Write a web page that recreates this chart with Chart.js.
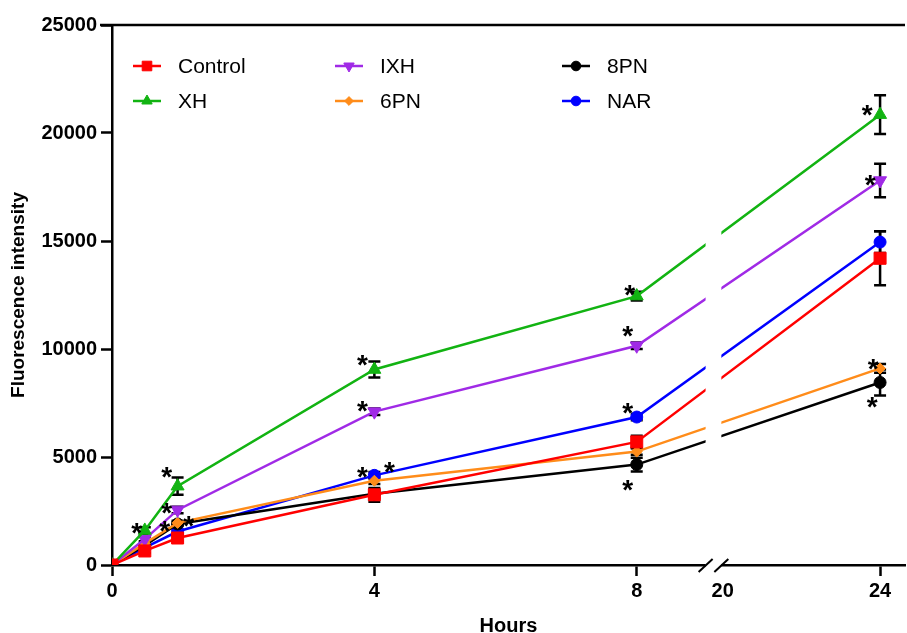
<!DOCTYPE html>
<html>
<head>
<meta charset="utf-8">
<script src="https://cdn.jsdelivr.net/npm/chart.js@4.4.1/dist/chart.umd.min.js"></script>
<style>
  html, body { margin: 0; padding: 0; background: #fff; overflow: hidden; }
  canvas { display: block; }
</style>
</head>
<body>
<canvas id="fluo" width="907" height="633"></canvas>
<script>
// data
var hours = [0, 0.5, 1, 4, 8, 24];
var seriesNames = ["Control", "XH", "IXH", "6PN", "8PN", "NAR"];
var control = [0, 650, 1250, 3250, 5700, 14200];
var xh      = [0, 1600, 3650, 9050, 12450, 20850];
var ixh     = [0, 1200, 2550, 7100, 10150, 17800];
var pn6     = [0, 1000, 1950, 3900, 5250, 9100];
var pn8     = [0, 900, 1900, 3300, 4650, 8450];
var nar     = [0, 800, 1550, 4150, 6850, 14950];

var controlErr = [0, 100, 150, 320, 280, 1250];
var xhErr      = [0, 150, 400, 370, 200, 900];
var ixhErr     = [0, 100, 150, 150, 150, 780];
var pn6Err     = [0, 80, 100, 150, 150, 200];
var pn8Err     = [0, 80, 100, 200, 320, 600];
var narErr     = [0, 80, 100, 150, 150, 500];

var tickHours = [0, 4, 8, 20, 24];
var yTicks = [0, 5000, 10000, 15000, 20000, 25000];

// significance stars: [series, point, dx, dy]
var stars = [
  [1, 1, -8, -4], [1, 2, -11, -16], [2, 2, -11, -4], [3, 2, -13, 1], [3, 2, 11, -4],
  [1, 3, -12, -12], [2, 3, -12, -8], [5, 3, -12, -5], [5, 3, 15, -10],
  [1, 4, -7, -8], [2, 4, -9, -17], [5, 4, -9, -11], [4, 4, -9, 18],
  [1, 5, -13, -7], [2, 5, -10, -3], [3, 5, -7, -6], [4, 5, -8, 18]
];

// broken x axis: 0-8 linear, then 20-24 squeezed after the break
function axisPos(h) {
  if (h <= 8) return h;
  return 9.31 + (h - 20) * 0.6;
}
var breakFrom = 9.05, breakTo = 9.29;

var FONT = '"Liberation Sans", Arial, sans-serif';

function pts(vals) {
  return vals.map(function (v, i) { return { x: axisPos(hours[i]), y: v }; });
}

var styles = [
  { color: '#ff0000', pointStyle: 'rect', radius: 8.5, rotation: 0 },
  { color: '#12b312', pointStyle: 'triangle', radius: 7.5, rotation: 0 },
  { color: '#a02ae6', pointStyle: 'triangle', radius: 7.5, rotation: 180 },
  { color: '#ff8c1a', pointStyle: 'rectRot', radius: 5.5, rotation: 0 },
  { color: '#000000', pointStyle: 'circle', radius: 6, rotation: 0 },
  { color: '#0000ff', pointStyle: 'circle', radius: 6, rotation: 0 }
];
var values = [control, xh, ixh, pn6, pn8, nar];
var errors = [controlErr, xhErr, ixhErr, pn6Err, pn8Err, narErr];

var datasets = values.map(function (vals, i) {
  var s = styles[i];
  return {
    label: seriesNames[i],
    data: pts(vals),
    errs: errors[i],
    borderColor: s.color,
    backgroundColor: s.color,
    borderWidth: 2.5,
    pointStyle: s.pointStyle,
    pointRadius: s.radius,
    pointRotation: s.rotation,
    pointBorderWidth: 1,
    pointHoverRadius: s.radius,
    tension: 0
  };
});

var errorBars = {
  id: 'errorBars',
  beforeDatasetsDraw: function (chart) {
    var c = chart.ctx, ys = chart.scales.y, xs = chart.scales.x;
    c.save();
    c.strokeStyle = '#000';
    c.lineWidth = 2.5;
    chart.data.datasets.forEach(function (ds) {
      ds.data.forEach(function (p, j) {
        var e = ds.errs[j];
        if (!e) return;
        var x = xs.getPixelForValue(p.x);
        var y1 = ys.getPixelForValue(p.y + e), y2 = ys.getPixelForValue(p.y - e);
        c.beginPath();
        c.moveTo(x, y1); c.lineTo(x, y2);
        c.moveTo(x - 6, y1); c.lineTo(x + 6, y1);
        c.moveTo(x - 6, y2); c.lineTo(x + 6, y2);
        c.stroke();
      });
    });
    c.restore();
  }
};

var extras = {
  id: 'extras',
  afterDatasetsDraw: function (chart) {
    var c = chart.ctx, a = chart.chartArea, xs = chart.scales.x;
    c.save();
    // top frame line
    c.strokeStyle = '#000';
    c.lineWidth = 2.5;
    c.beginPath();
    c.moveTo(a.left - 12, a.top); c.lineTo(a.right, a.top);
    c.stroke();
    // axis break
    var bx1 = xs.getPixelForValue(breakFrom), bx2 = xs.getPixelForValue(breakTo);
    c.fillStyle = '#fff';
    c.fillRect(bx1, a.top + 2, bx2 - bx1, a.bottom - a.top);
    c.lineWidth = 2;
    [bx1, bx2].forEach(function (bx) {
      c.beginPath();
      c.moveTo(bx - 7, a.bottom + 7); c.lineTo(bx + 7, a.bottom - 6);
      c.stroke();
    });
    // stars
    c.fillStyle = '#000';
    c.font = 'bold 28px ' + FONT;
    c.textAlign = 'center';
    c.textBaseline = 'alphabetic';
    stars.forEach(function (s) {
      var el = chart.getDatasetMeta(s[0]).data[s[1]];
      c.fillText('*', el.x + s[2], el.y + s[3] + 16);
    });
    // legend, 3 columns x 2 rows
    var colX = [133, 335, 562], rowY = [66, 101];
    c.font = '21px ' + FONT;
    c.textAlign = 'left';
    c.textBaseline = 'middle';
    chart.data.datasets.forEach(function (ds, i) {
      var x = colX[Math.floor(i / 2)], y = rowY[i % 2];
      c.strokeStyle = ds.borderColor;
      c.lineWidth = 2.5;
      c.beginPath();
      c.moveTo(x, y); c.lineTo(x + 28, y);
      c.stroke();
      c.fillStyle = ds.backgroundColor;
      c.strokeStyle = ds.borderColor;
      c.lineWidth = 1;
      Chart.helpers.drawPoint(c, {
        pointStyle: ds.pointStyle, rotation: ds.pointRotation,
        radius: ds.pointRadius * 0.8, borderWidth: 1
      }, x + 14, y);
      c.fillStyle = '#000';
      c.fillText(ds.label, x + 45, y + 1);
    });
    c.restore();
  }
};

new Chart(document.getElementById('fluo').getContext('2d'), {
  type: 'line',
  data: { datasets: datasets },
  plugins: [errorBars, extras],
  options: {
    responsive: false,
    animation: false,
    devicePixelRatio: 1,
    layout: { autoPadding: false, padding: { top: 25, right: 2, left: 0, bottom: 0 } },
    plugins: { legend: { display: false }, tooltip: { enabled: false } },
    scales: {
      x: {
        type: 'linear',
        min: 0,
        max: 12.09,
        afterFit: function (s) { s.height = 68; s.paddingRight = 0; s.paddingLeft = 0; },
        afterBuildTicks: function (s) {
          s.ticks = tickHours.map(function (h) { return { value: axisPos(h) }; });
        },
        ticks: {
          color: '#000',
          font: { family: FONT, size: 20, weight: 'bold' },
          padding: 3,
          maxRotation: 0,
          autoSkip: false,
          callback: function (v, i) { return String(tickHours[i]); }
        },
        grid: {
          display: true, drawOnChartArea: false, drawTicks: true,
          tickLength: 11, tickWidth: 2.5,
          tickColor: function (ctx) { return ctx.index === 3 ? 'rgba(0,0,0,0)' : '#000'; }
        },
        border: { color: '#000', width: 2.5 },
        title: {
          display: true, text: 'Hours', color: '#000',
          font: { family: FONT, size: 20, weight: 'bold' },
          padding: { top: 0, bottom: -5 }
        }
      },
      y: {
        min: 0,
        max: 25000,
        afterFit: function (s) { s.width = 112; },
        afterBuildTicks: function (s) {
          s.ticks = yTicks.map(function (v) { return { value: v }; });
        },
        ticks: {
          color: '#000',
          font: { family: FONT, size: 20, weight: 'bold' },
          padding: 4,
          callback: function (v) { return String(v); }
        },
        grid: {
          display: true, drawOnChartArea: false, drawTicks: true,
          tickLength: 11, tickWidth: 2.5, tickColor: '#000'
        },
        border: { color: '#000', width: 2.5 },
        title: {
          display: true, text: 'Fluorescence intensity', color: '#000',
          font: { family: FONT, size: 19, weight: 'bold' },
          padding: { top: 7, bottom: 0 }
        }
      }
    }
  }
});
</script>
</body>
</html>
